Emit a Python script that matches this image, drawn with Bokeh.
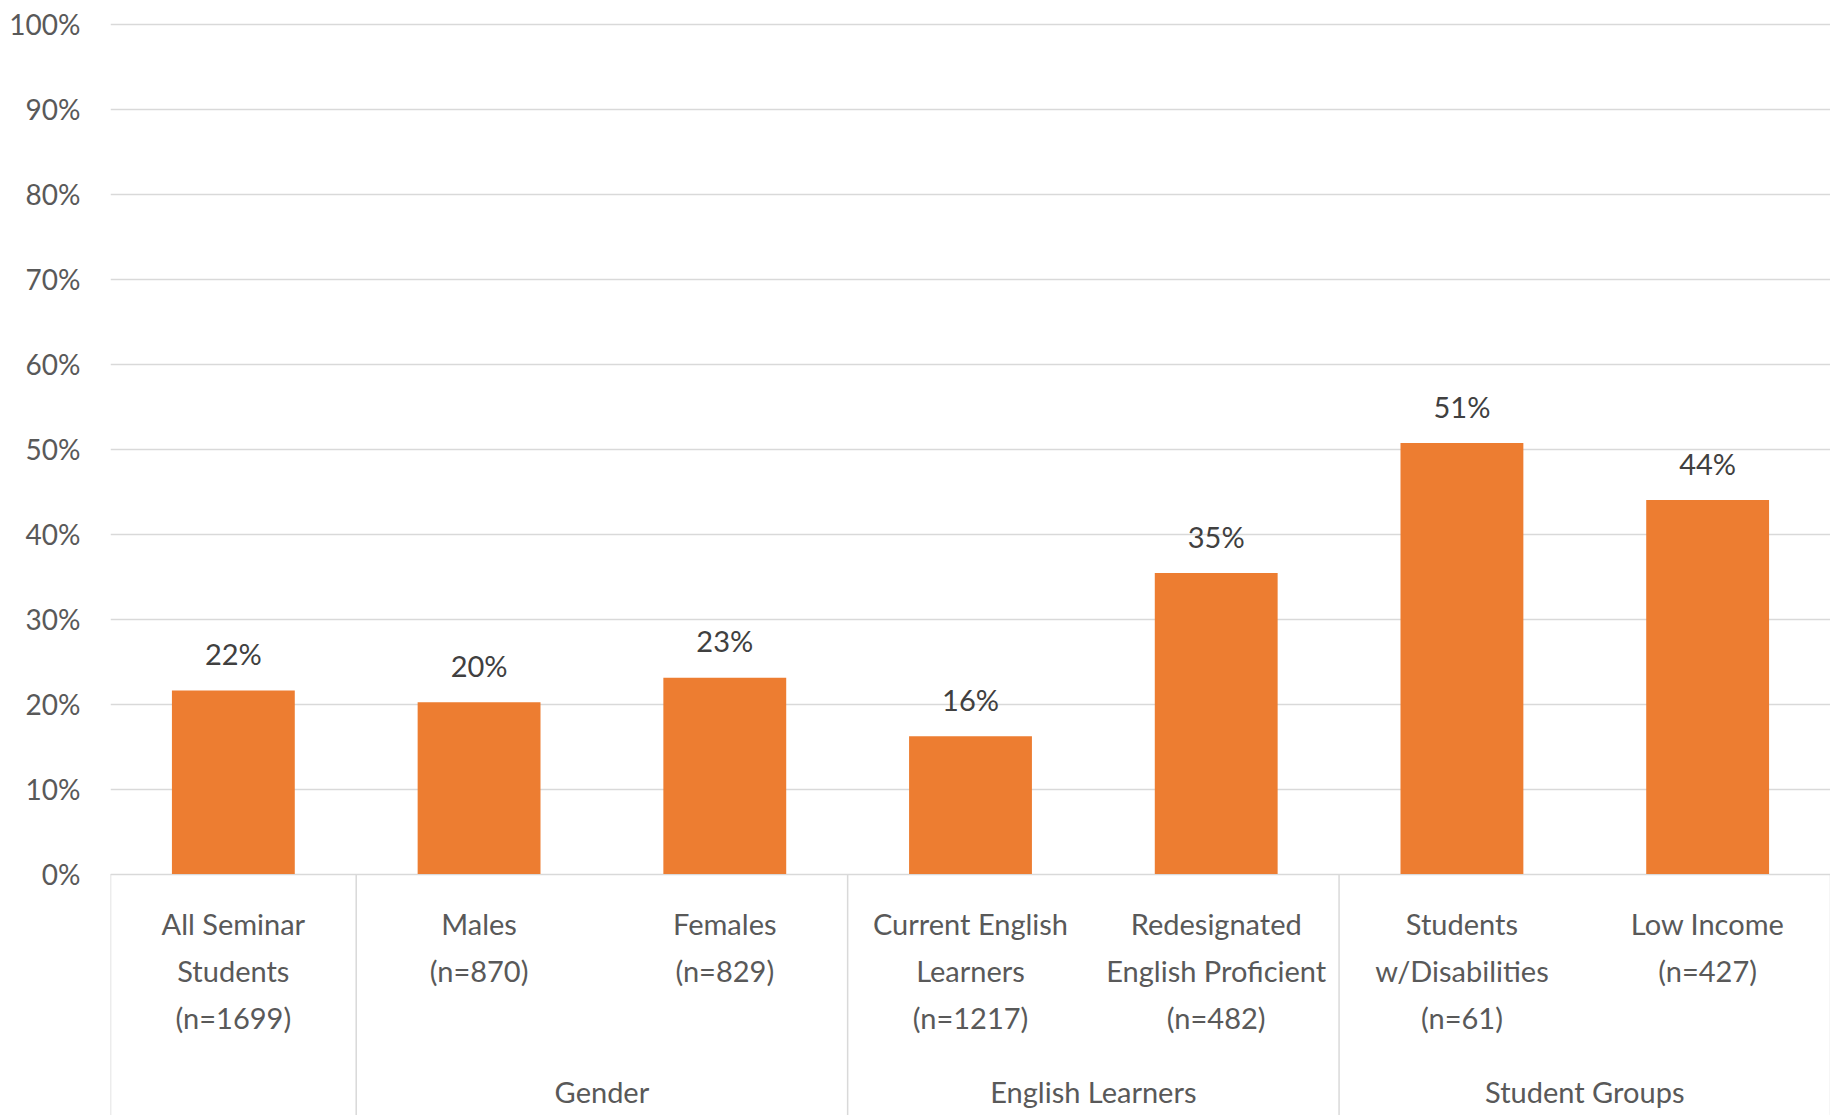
from bokeh.plotting import figure
from bokeh.models import ColumnDataSource, FixedTicker, PrintfTickFormatter, Range1d
from bokeh.core.properties import value
from bokeh.embed import file_html
from bokeh.resources import INLINE

# ---- data ----
cat_lines = [
    ["All Seminar", "Students", "(n=1699)"],
    ["Males", "(n=870)"],
    ["Females", "(n=829)"],
    ["Current English", "Learners", "(n=1217)"],
    ["Redesignated", "English Proficient", "(n=482)"],
    ["Students", "w/Disabilities", "(n=61)"],
    ["Low Income", "(n=427)"],
]
groups = [None, "Gender", "Gender", "English Learners", "English Learners",
          "Student Groups", "Student Groups"]
values = [21.6, 20.2, 23.1, 16.2, 35.4, 50.7, 44.0]
y_ticks = [0, 10, 20, 30, 40, 50, 60, 70, 80, 90, 100]

# ---- style ----
ORANGE = "#ED7D31"
TXT = "#595959"
GRID = "#D9D9D9"
FONT = value("Lato")
PX_PER_UNIT = 8.5
FIG_W = 1830
FIG_H = 1115
TOP_BORDER = 19          # frame top (px)
TOP_PAD = 4.5            # px between frame top and the 100% line
Y100 = TOP_BORDER + TOP_PAD
y_top = 100 + TOP_PAD / PX_PER_UNIT
y_bottom = -(FIG_H - (Y100 + 100 * PX_PER_UNIT)) / PX_PER_UNIT

n = len(values)
xs = [i + 0.5 for i in range(n)]

p = figure(width=FIG_W, height=FIG_H, x_range=Range1d(0, n), y_range=Range1d(y_bottom, y_top),
           output_backend="svg", toolbar_location=None, x_axis_location=None,
           min_border_left=110, min_border_right=0, min_border_top=TOP_BORDER,
           min_border_bottom=0, outline_line_color=None)
p.background_fill_color = "white"

# y axis
p.yaxis.ticker = FixedTicker(ticks=y_ticks)
p.yaxis.formatter = PrintfTickFormatter(format="%d%%")
p.yaxis.axis_line_color = None
p.yaxis.major_tick_line_color = None
p.yaxis.minor_tick_line_color = None
p.yaxis.major_label_standoff = 24
p.yaxis.major_label_text_font = "Lato"
p.yaxis.major_label_text_font_size = "28px"
p.yaxis.major_label_text_color = TXT

p.xgrid.visible = False
p.ygrid.ticker = FixedTicker(ticks=y_ticks)
p.ygrid.grid_line_color = GRID
p.ygrid.grid_line_width = 1.5

# separators between groups
bounds = [0]
for i in range(1, n):
    if groups[i] is None or groups[i] != groups[i - 1]:
        bounds.append(i)
bounds.append(n)
p.segment(x0=bounds, x1=bounds, y0=[0] * len(bounds), y1=[y_bottom] * len(bounds),
          line_color=GRID, line_width=1.5)

# bars
p.vbar(x=xs, top=values, bottom=0, width=0.5, fill_color=ORANGE, line_color=None)

# data labels
p.text(x=xs, y=values, text=["%.0f%%" % v for v in values], y_offset=-37,
       text_align="center", text_baseline="middle", text_font=FONT,
       text_font_size="29px", text_color="#404040")

# category labels
LINE_Y0 = 49
LINE_STEP = 47
cx, cy, ct, co = [], [], [], []
for i, lines in enumerate(cat_lines):
    for j, t in enumerate(lines):
        cx.append(xs[i]); cy.append(0); ct.append(t); co.append(LINE_Y0 + LINE_STEP * j)
p.text(x="x", y="y", text="t", y_offset="o",
       source=ColumnDataSource(dict(x=cx, y=cy, t=ct, o=co)),
       text_align="center", text_baseline="middle", text_font=FONT,
       text_font_size="29px", text_color=TXT)

# group labels
gx, gt = [], []
for g in dict.fromkeys([g for g in groups if g is not None]):
    idx = [i for i, gg in enumerate(groups) if gg == g]
    gx.append((min(idx) + max(idx) + 1) / 2)
    gt.append(g)
p.text(x=gx, y=[0] * len(gx), text=gt, y_offset=217, text_align="center",
       text_baseline="middle", text_font=FONT, text_font_size="29px", text_color=TXT)

open("out.html", "w").write(file_html(p, INLINE))
